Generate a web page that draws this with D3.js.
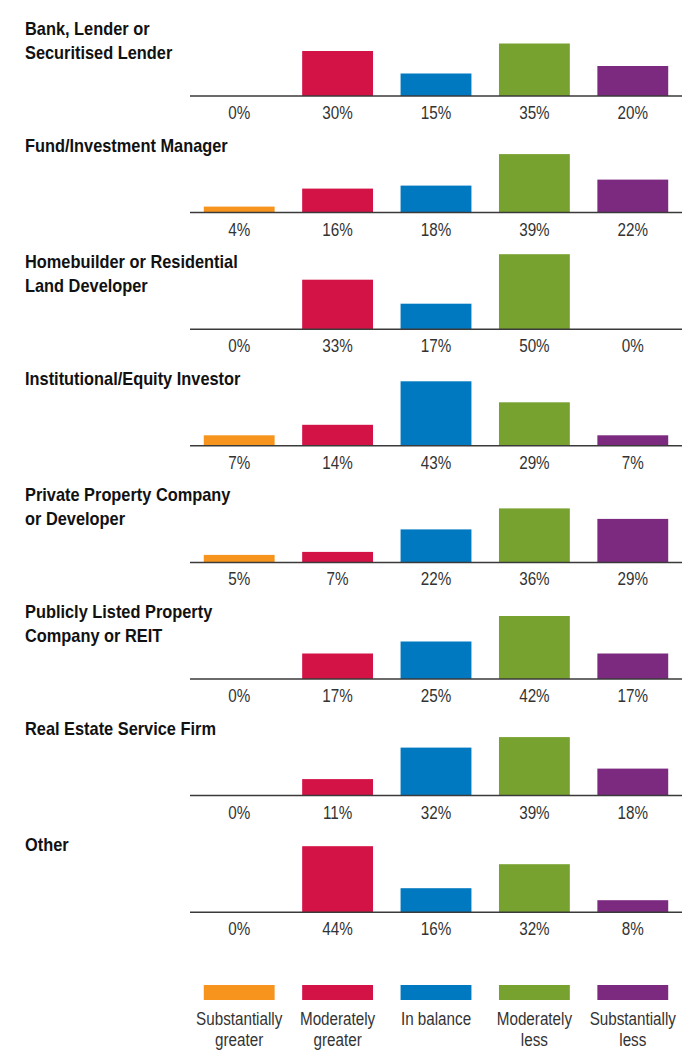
<!DOCTYPE html>
<html>
<head>
<meta charset="utf-8">
<script src="https://cdn.jsdelivr.net/npm/d3@7.9.0/dist/d3.min.js"></script>
<style>
  body { margin: 0; background: #fff; }
  svg text { font-family: "Liberation Sans Narrow", "Liberation Sans", Arial, sans-serif; }
</style>
</head>
<body>
<svg width="690" height="1050"></svg>
<script>
// answer categories (legend order)
const categories = ['Substantially greater', 'Moderately greater', 'In balance', 'Moderately less', 'Substantially less'];
const legendLines = [['Substantially', 'greater'], ['Moderately', 'greater'], ['In balance'], ['Moderately', 'less'], ['Substantially', 'less']];
const colors = ['#F7941D', '#D31245', '#0079C1', '#77A22F', '#7B2A7F'];

// respondent groups
const groups = [
  ['Bank, Lender or', 'Securitised Lender'],
  ['Fund/Investment Manager'],
  ['Homebuilder or Residential', 'Land Developer'],
  ['Institutional/Equity Investor'],
  ['Private Property Company', 'or Developer'],
  ['Publicly Listed Property', 'Company or REIT'],
  ['Real Estate Service Firm'],
  ['Other']
];

// percentages per group, in category order
const bank = [0, 30, 15, 35, 20];
const fund = [4, 16, 18, 39, 22];
const homebuilder = [0, 33, 17, 50, 0];
const institutional = [7, 14, 43, 29, 7];
const privateProp = [5, 7, 22, 36, 29];
const listed = [0, 17, 25, 42, 17];
const serviceFirm = [0, 11, 32, 39, 18];
const other = [0, 44, 16, 32, 8];
const values = [bank, fund, homebuilder, institutional, privateProp, listed, serviceFirm, other];

const svg = d3.select('svg');

// no condensed face installed, so squeeze text horizontally
const titleSqueeze = 0.885;
const labelSqueeze = 0.87;

let x = d3.scaleBand()
  .domain(categories)
  .range([190, 682])
  .paddingInner(0.28)
  .paddingOuter(0.14);

// 50% -> 75px
let y = d3.scaleLinear().domain([0, 50]).range([0, 75]);

const firstBase = 96;
const panelStep = 116.6;

function squeezed(parent, px, py, sx) {
  return parent.append('g')
    .attr('transform', `translate(${px},${py}) scale(${sx},1)`)
    .append('text');
}

values.forEach((vals, gi) => {
  let base = firstBase + gi * panelStep;
  let g = svg.append('g');

  squeezed(g, 25, base - 61, titleSqueeze)
    .attr('font-size', 18.5)
    .attr('font-weight', 'bold')
    .attr('fill', '#111')
    .selectAll('tspan')
    .data(groups[gi])
    .join('tspan')
    .attr('x', 0)
    .attr('dy', (d, i) => i === 0 ? 0 : 24)
    .text(d => d);

  g.selectAll('rect')
    .data(vals.map((v, i) => ({ v, c: categories[i], i })).filter(d => d.v > 0))
    .join('rect')
    .attr('x', d => x(d.c))
    .attr('width', x.bandwidth())
    .attr('y', d => base - y(d.v))
    .attr('height', d => y(d.v))
    .attr('fill', d => colors[d.i]);

  g.append('line')
    .attr('x1', 190).attr('x2', 682)
    .attr('y1', base).attr('y2', base)
    .attr('stroke', '#3a3a3a')
    .attr('stroke-width', 1.5);

  vals.forEach((v, i) => {
    squeezed(g, x(categories[i]) + x.bandwidth() / 2, base + 23, labelSqueeze)
      .attr('text-anchor', 'middle')
      .attr('font-size', 17.5)
      .attr('fill', '#333')
      .text(v + '%');
  });
});

// legend
let legend = svg.append('g');
legend.selectAll('rect')
  .data(categories)
  .join('rect')
  .attr('x', d => x(d))
  .attr('width', x.bandwidth())
  .attr('y', 985)
  .attr('height', 15)
  .attr('fill', (d, i) => colors[i]);

legendLines.forEach((lines, i) => {
  let cx = x(categories[i]) + x.bandwidth() / 2;
  squeezed(legend, cx, 1025, labelSqueeze)
    .attr('text-anchor', 'middle')
    .attr('font-size', 17.5)
    .attr('fill', '#333')
    .selectAll('tspan')
    .data(lines)
    .join('tspan')
    .attr('x', 0)
    .attr('dy', (d, j) => j === 0 ? 0 : 21)
    .text(d => d);
});
</script>
</body>
</html>
